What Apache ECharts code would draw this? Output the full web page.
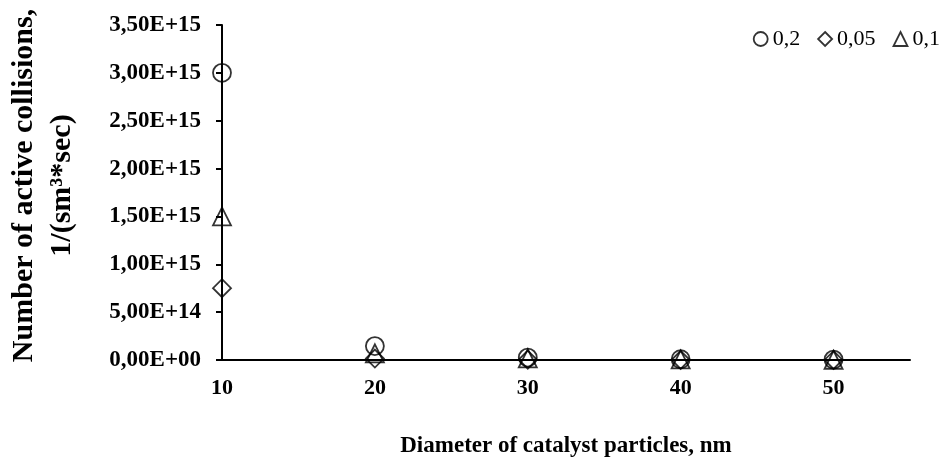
<!DOCTYPE html>
<html>
<head>
<meta charset="utf-8">
<script src="https://cdn.jsdelivr.net/npm/echarts@6/dist/echarts.min.js"></script>
<style>
html,body{margin:0;padding:0;background:#fff;}
#chart{width:946px;height:461px;}
</style>
</head>
<body>
<div id="chart"></div>
<script>
// Data
const diameters = [10, 20, 30, 40, 50];
const seriesNames = ['0,2', '0,05', '0,1'];
const values02 = [3.0e15, 1.45e14, 2.5e13, 8e12, 4e12];
const values005 = [7.5e14, 1.5e13, 4e12, 1.5e12, 6e11];
const values01 = [1.5e15, 7.0e13, 1.8e13, 6e12, 2.5e12];
const symbols = ['circle', 'diamond', 'triangle'];
const yTicks = {min: 0, max: 3.5e15, interval: 5e14};
const xTicks = {min: 10, max: 55, interval: 10};

function pairs(vals){ return diameters.map((d,i)=>[d, vals[i]]); }
function sci(v){
  if (v === 0) return '0,00E+00';
  const e = Math.floor(Math.log10(v) + 1e-9);
  const m = v / Math.pow(10, e);
  return m.toFixed(2).replace('.', ',') + 'E+' + String(e).padStart(2, '0');
}

const font = 'Liberation Serif, Times New Roman, serif';
const markerStyle = {color: 'rgba(0,0,0,0)', borderColor: '#000', borderWidth: 1.8};
const allVals = [values02, values005, values01];

const chart = echarts.init(document.getElementById('chart'), null, {renderer: 'canvas'});
chart.setOption({
  animation: false,
  backgroundColor: '#fff',
  grid: {left: 222, right: 36, top: 25, bottom: 101, containLabel: false, outerBoundsMode: 'none'},
  legend: {
    right: 1, top: 23, padding: 5,
    itemWidth: 14, itemHeight: 14, itemGap: 17,
    textStyle: {fontFamily: font, fontSize: 22, color: '#000'},
    data: seriesNames.map((n,i)=>({name: n, icon: symbols[i], itemStyle: markerStyle}))
  },
  xAxis: {
    type: 'value',
    min: xTicks.min, max: xTicks.max, interval: xTicks.interval,
    name: 'Diameter of catalyst particles, nm',
    nameLocation: 'middle', nameGap: 75,
    nameTextStyle: {fontFamily: font, fontSize: 23, fontWeight: 'bold', color: '#000'},
    axisLine: {show: true, onZero: false, lineStyle: {color: '#000', width: 2}},
    axisTick: {show: false},
    axisLabel: {fontFamily: font, fontSize: 22, fontWeight: 'bold', color: '#000', margin: 17, showMaxLabel: false},
    splitLine: {show: false}
  },
  yAxis: {
    type: 'value',
    min: yTicks.min, max: yTicks.max, interval: yTicks.interval,
    name: 'Number of active collisions,\n1/(sm³*sec)',
    nameLocation: 'middle', nameGap: 141,
    nameTextStyle: {fontFamily: font, fontSize: 30, fontWeight: 'bold', color: '#000', lineHeight: 38, align: 'center', padding: [0, 0, 0, 14]},
    axisLine: {show: true, onZero: false, lineStyle: {color: '#000', width: 2}},
    axisTick: {show: true, inside: false, length: 6, lineStyle: {color: '#000', width: 2}},
    axisLabel: {fontFamily: font, fontSize: 23, fontWeight: 'bold', color: '#000', margin: 21, padding: [7, 0, 0, 0], formatter: sci},
    splitLine: {show: false}
  },
  series: seriesNames.map((n,i)=>({
    name: n, type: 'scatter', symbol: symbols[i], symbolSize: 18,
    itemStyle: markerStyle,
    data: pairs(allVals[i])
  }))
});
</script>
</body>
</html>
